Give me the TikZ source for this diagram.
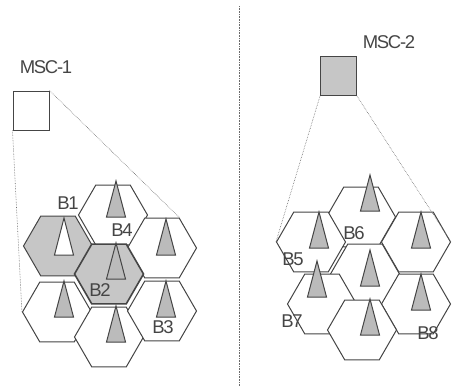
\documentclass[tikz,border=0pt]{standalone}
\usepackage{fontspec}
\setmainfont{Liberation Sans}
\newfontfamily\lblfont[LetterSpace=-7]{Liberation Sans}
\usetikzlibrary{shapes.geometric}
\definecolor{edge}{HTML}{454545}
\definecolor{cellgray}{HTML}{C6C6C6}
\definecolor{antgray}{HTML}{BBBBBB}
\tikzset{
  hexcell/.style={regular polygon, regular polygon sides=6, minimum size=69pt, inner sep=0pt,
                  draw=edge, line width=1pt, fill=white},
  grayhex/.style={hexcell, fill=cellgray},
  mainhex/.style={grayhex, line width=1.6pt},
  mscbox/.style={rectangle, draw=edge, line width=1pt, minimum width=36pt, minimum height=39pt, inner sep=0pt},
  link/.style={densely dotted, draw=edge!80, line width=0.6pt},
  lbl/.style={font=\lblfont\fontsize{18.5}{18.5}\selectfont, text=edge, inner sep=0pt},
  antenna/.pic={\draw[draw=edge, line width=1pt, fill=antgray] (-9.5,0) -- (0,-36) -- (9.5,0) -- cycle;},
  antennawhite/.pic={\draw[draw=edge, line width=1pt, fill=white] (-9.5,0) -- (0,-37) -- (9.5,0) -- cycle;}
}
\begin{document}
\begin{tikzpicture}[x=1pt,y=-1pt]
\useasboundingbox (0,0) rectangle (453,388);
% divider
\draw[link] (239,6) -- (239,386);

% ---------- left cluster ----------
\node[hexcell] (Ltop) at (113,215) {};
\node[hexcell] (LUR) at (162,248) {};
\node[hexcell] (LLL) at (57,312) {};
\node[hexcell] (Lbot) at (109,337) {};
\node[hexcell] (LLR) at (162,311) {};
\node[grayhex] (LB1) at (58,246) {};
\node[mainhex] (LB2) at (109,274) {};

\pic at (116,217) {antenna};
\pic at (64,255) {antennawhite};
\pic at (116,279) {antenna};
\pic at (166,255) {antenna};
\pic at (64,317) {antenna};
\pic at (116,342) {antenna};
\pic at (166,317) {antenna};

\node[lbl] (tB1) at (68,203) {B1};
\node[lbl] (tB4) at (122,230) {B4};
\node[lbl] (tB2) at (100,290) {B2};
\node[lbl] (tB3) at (163,327) {B3};

\node[mscbox, fill=white] (msc1) at (31,110.5) {};
\node[lbl] (tmsc1) at (46,67) {MSC-1};
\draw[link] (msc1.north east) -- (LUR.60);
\draw[link] (msc1.south west) -- (LLL.west);

% ---------- right cluster ----------
\node[hexcell] (Rtop) at (361,217) {};
\node[hexcell] (RUL) at (311,242) {};
\node[hexcell] (RUR) at (416,242) {};
\node[hexcell] (Rcen) at (365,274) {};
\node[hexcell] (RLL) at (322,304) {};
\node[hexcell] (RLR) at (416,304) {};
\node[hexcell] (Rbot) at (362,330) {};

\pic at (370,211) {antenna};
\pic at (319,248) {antenna};
\pic at (421,248) {antenna};
\pic at (370,286) {antenna};
\pic at (317,297) {antenna};
\pic at (421,310) {antenna};
\pic at (370,335) {antenna};

\node[lbl] (tB6) at (354,233) {B6};
\node[lbl] (tB5) at (293,259) {B5};
\node[lbl] (tB7) at (292,321) {B7};
\node[lbl] (tB8) at (428,333) {B8};

\node[mscbox, fill=cellgray] (msc2) at (338.5,76) {};
\node[lbl] (tmsc2) at (389,42) {MSC-2};
\draw[link] (msc2.south west) -- (RUL.west);
\draw[link] (msc2.south east) -- (RUR.east);
\end{tikzpicture}
\end{document}
